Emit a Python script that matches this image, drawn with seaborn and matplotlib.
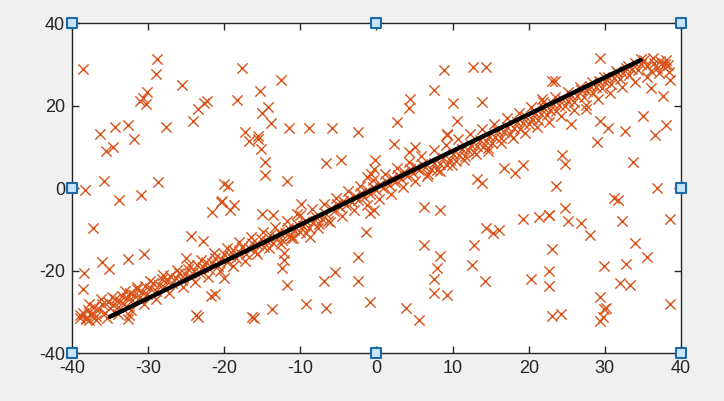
import matplotlib
matplotlib.use("Agg")
import matplotlib.pyplot as plt
import seaborn as sns
import pandas as pd

sns.set_theme(style="white")
plt.rcParams["font.family"] = ["Liberation Sans", "DejaVu Sans"]
plt.rcParams["axes.unicode_minus"] = False

# points scattered around the fitted line
in_x = [-39.0, -38.6, -38.2, -37.9, -37.5, -37.1, -36.8, -36.4, -36.0, -35.7, -35.3, -35.0,
        -34.6, -34.3, -34.0, -33.7, -33.4, -33.1, -32.8, -32.4, -32.1, -31.8, -31.4, -31.1,
        -30.8, -30.4, -30.1, -29.7, -29.3, -29.0, -28.6, -28.2, -27.9, -27.5, -27.1, -26.8,
        -26.4, -26.0, -25.6, -25.2, -24.8, -24.4, -24.0, -23.6, -23.2, -22.8, -22.4, -22.0,
        -21.6, -21.2, -20.8, -20.4, -20.0, -19.6, -19.2, -18.8, -18.4, -18.0, -17.6, -17.2,
        -16.8, -16.4, -16.0, -15.6, -15.2, -14.8, -14.4, -14.0, -13.6, -13.2, -12.8, -12.4,
        -12.0, -11.6, -11.2, -10.8, -10.4, -10.0, -9.6, -9.2, -8.8, -8.4, -8.0, -7.6,
        -7.2, -6.8, -6.4, -6.0, -5.6, -5.2, -4.8, -4.4, -4.0, -3.6, -3.2, -2.8,
        -2.4, -2.0, -1.6, -1.2, -0.8, -0.4, 0.0, 0.4, 0.8, 1.2, 1.6, 2.0,
        2.4, 2.8, 3.2, 3.6, 4.0, 4.4, 4.8, 5.2, 5.6, 6.0, 6.4, 6.8,
        7.2, 7.6, 8.0, 8.4, 8.8, 9.2, 9.6, 10.0, 10.4, 10.8, 11.2, 11.6,
        12.0, 12.4, 12.8, 13.2, 13.6, 14.0, 14.4, 14.8, 15.2, 15.6, 16.0, 16.4,
        16.8, 17.2, 17.6, 18.0, 18.4, 18.8, 19.2, 19.6, 20.0, 20.4, 20.8, 21.2,
        21.6, 22.0, 22.4, 22.8, 23.2, 23.6, 24.0, 24.4, 24.8, 25.2, 25.6, 26.0,
        26.4, 26.8, 27.2, 27.6, 28.0, 28.4, 28.8, 29.2, 29.6, 30.0, 30.4, 30.8,
        31.2, 31.6, 32.0, 32.4, 32.8, 33.2, 33.6, 34.0, 34.4, 34.8, 35.2, 35.6,
        36.0, 36.4, 36.8, 37.2, 37.6, 38.0, 38.3,
        -37.8, -36.9, -36.2, -35.4, -34.8, -33.9, -33.0, -32.2, -31.5, -30.6, -29.8, -28.9,
        -28.0, -27.2, -26.2, -25.4, -24.6, -23.8, -23.0, -22.1, -21.3, -20.5, -19.7, -18.9,
        -18.1, -17.3, -16.5, -15.7, -14.9, -14.1, -13.3, -12.5, -11.7, -10.9, -10.1, -9.3,
        -8.5, -7.7, -6.9, -6.1, -5.3, -4.5, -3.7, -2.9, -2.1, -1.3, -0.5, 0.3,
        1.1, 1.9, 2.7, 3.5, 4.3, 5.1, 5.9, 6.7, 7.5, 8.3, 9.1, 9.9,
        10.7, 11.5, 12.3, 13.1, 13.9, 14.7, 15.5, 16.3, 17.1, 17.9, 18.7, 19.5,
        20.3, 21.1, 21.9, 22.7, 23.5, 24.3, 25.1, 25.9, 26.7, 27.5, 28.3, 29.1,
        29.9, 30.7, 31.5, 32.3, 33.1, 33.9, 34.7, 35.5, 36.3, 37.1, 37.9, 38.4]
in_y = [-31.5, -30.2, -31.8, -29.6, -30.8, -28.9, -31.0, -29.4, -28.1, -30.2, -27.6, -29.0,
        -28.4, -26.9, -28.8, -27.3, -26.1, -28.0, -26.7, -25.5, -27.2, -25.9, -24.6, -26.4,
        -25.1, -23.8, -25.6, -24.2, -23.0, -24.9, -23.4, -22.1, -24.0, -22.6, -21.4, -23.1,
        -21.8, -20.5, -22.4, -20.9, -19.6, -21.5, -20.1, -18.7, -20.6, -19.2, -17.9, -19.7,
        -18.2, -16.9, -18.8, -17.3, -16.0, -17.9, -16.4, -15.1, -17.0, -15.5, -14.2, -16.1,
        -14.6, -13.3, -15.2, -13.7, -12.4, -14.3, -12.8, -11.5, -13.4, -11.9, -10.6, -12.5,
        -11.0, -9.7, -11.5, -10.1, -8.8, -10.6, -9.2, -7.9, -9.7, -8.3, -7.0, -8.8,
        -7.4, -6.1, -7.9, -4.8, -5.6, -3.9, -4.6, -3.2, -4.1, -2.6, -3.5, -1.9,
        -2.8, -1.2, -2.1, -0.5, -1.4, 0.3, -0.6, 1.0, 0.1, 1.7, 0.8, 2.4,
        1.5, 3.1, 2.2, 3.8, 2.9, 4.5, 3.6, 5.2, 4.3, 5.9, 5.0, 3.3,
        4.7, 6.1, 4.4, 5.8, 7.2, 5.5, 6.9, 8.3, 6.6, 8.0, 9.4, 7.7,
        9.1, 10.5, 8.8, 10.2, 11.6, 9.9, 11.3, 12.7, 11.0, 12.4, 13.8, 12.1,
        13.5, 14.9, 13.2, 14.6, 16.0, 14.3, 15.7, 17.1, 15.4, 16.8, 18.2, 16.5,
        17.9, 19.3, 17.6, 19.0, 20.4, 18.7, 20.1, 21.5, 19.8, 21.2, 22.6, 20.9,
        22.3, 23.7, 22.0, 23.4, 24.8, 23.1, 24.5, 25.9, 24.2, 25.6, 27.0, 25.3,
        26.7, 28.1, 26.4, 27.8, 29.2, 27.5, 28.9, 30.3, 28.6, 30.0, 31.0, 29.7,
        28.4, 30.2, 29.0, 30.8, 29.5, 31.1, 29.8,
        -28.0, -32.0, -27.0, -31.5, -26.5, -30.5, -25.0, -29.5, -24.0, -28.0, -22.5, -26.8,
        -21.0, -25.5, -19.8, -24.0, -18.6, -22.8, -17.5, -21.5, -15.8, -20.2, -14.5, -18.8,
        -13.2, -17.6, -11.8, -16.0, -10.6, -14.6, -9.4, -13.5, -8.0, -12.2, -6.5, -10.8,
        -5.0, -9.6, -3.8, -8.2, -2.4, -6.8, -0.8, -5.4, 0.6, -4.0, 2.0, -2.6,
        3.4, -1.4, 4.8, 0.2, 6.3, 1.6, 7.8, 2.8, 9.2, 4.2, 10.4, 5.6,
        11.8, 6.8, 13.0, 8.2, 14.4, 9.6, 15.6, 10.8, 16.9, 12.2, 18.2, 13.4,
        19.6, 14.8, 20.8, 16.0, 22.0, 17.4, 23.2, 18.8, 24.6, 20.2, 25.8, 21.6,
        27.0, 23.0, 28.4, 24.4, 29.6, 25.8, 31.2, 27.0, 31.4, 27.8, 30.0, 28.2]

# scattered outliers
out_x = [-38.6, -28.8, -28.9, -25.5, -30.1, -31.1, -30.3, -30.7, -23.5, -22.2, -22.6, -24.1,
         -34.3, -32.7, -27.6, -36.3, -31.8, -17.6, -12.6, -15.3, -18.3, -14.3, -15.1, -13.8,
         -11.5, -8.8, -5.8, -2.4, -17.3, -15.5, 8.9, 12.7, 14.4, 7.5, 4.4, 4.3,
         10.0, 13.8, 2.7, 10.6, 9.3, 29.4, 23.1, 23.4, 21.7, 25.5, 29.4, 30.4,
         32.7, 35.0, 38.0, 36.6, 37.7, 38.5, 36.0, 27.5, -34.6, -35.5, -35.8, -38.3,
         -28.7, -33.8, -30.9, -37.3, -21.6, -20.4, -24.3, -22.8, -20.0, -16.7, -15.5, -15.2,
         -14.6, -14.6, -11.8, -6.6, -4.6, -0.2, -0.7, -0.3, -1.3, -19.5, -20.3, -18.7,
         -19.2, -15.1, -13.6, -9.9, -10.4, -0.9, -1.4, -8.7, -11.2, 9.3, 2.3, 4.3,
         5.1, 14.7, 16.7, 18.2, 19.2, 13.2, 13.8, 6.2, 8.4, 19.3, 14.4, 15.3,
         16.1, 6.3, 12.8, -0.3, 29.0, 24.4, 24.8, 33.7, 23.6, 36.9, 31.2, 31.7,
         24.7, 21.3, 22.6, 22.7, 25.1, 26.8, 32.2, 38.5, 28.1, 34.0, -38.4, -38.6,
         -36.0, -35.2, -32.6, -30.5, -38.9, -37.7, -37.5, -38.2, -25.0, -21.7, -21.2, -23.7,
         -23.4, -32.7, -32.5, -20.0, -2.4, -5.5, -6.9, -2.4, -12.1, -12.2, -12.4, -11.8,
         -9.2, -6.6, -13.7, -16.3, -16.1, -0.8, 8.3, 7.9, 7.6, 12.6, 14.3, 20.3,
         7.5, 9.3, 3.9, 5.6, 23.1, 35.6, 29.9, 32.8, 22.7, 22.6, 32.0, 33.3,
         29.3, 29.9, 30.1, 29.8, 29.4, 23.0, 24.3, 38.6]
out_y = [28.8, 31.2, 27.6, 24.9, 23.2, 21.0, 20.3, 21.9, 19.1, 21.0, 20.7, 16.2,
         14.7, 15.2, 14.7, 13.0, 12.0, 29.0, 26.3, 23.4, 21.3, 19.6, 18.1, 15.7,
         14.5, 14.5, 14.5, 13.5, 13.5, 12.5, 28.6, 29.3, 29.3, 23.8, 21.6, 19.5,
         20.5, 20.8, 15.9, 16.2, 13.2, 31.4, 25.9, 25.9, 21.7, 15.5, 16.2, 14.5,
         13.7, 17.5, 15.2, 12.9, 22.2, 26.3, 24.2, 19.2, 9.9, 8.9, 1.6, -0.6,
         1.4, -3.0, -1.8, -9.8, -5.7, -3.5, -11.7, -12.9, 0.9, 11.4, 11.8, 9.4,
         6.2, 3.1, 1.6, 6.0, 6.7, 6.7, 3.3, 4.6, 2.7, 0.4, -3.2, -4.2,
         -5.4, -6.4, -6.6, -3.9, -6.4, -6.0, -10.7, -11.9, -12.2, 12.8, 10.6, 8.8,
         10.0, 9.0, 4.8, 3.6, 5.6, 2.1, 1.1, -4.5, -5.3, -7.4, -9.8, -10.8,
         -10.2, -13.7, -13.7, -5.3, 11.1, 7.9, 5.7, 6.4, 0.4, -0.1, -2.5, -3.0,
         -4.9, -7.1, -6.6, -6.5, -8.1, -8.6, -8.1, -7.4, -11.5, -13.3, -20.7, -24.6,
         -18.0, -19.7, -17.3, -16.1, -30.8, -32.0, -30.6, -31.6, -17.0, -26.3, -25.8, -30.9,
         -31.3, -31.8, -30.8, -21.7, -16.8, -20.3, -22.6, -22.6, -15.7, -17.5, -19.5, -23.6,
         -28.0, -29.2, -29.4, -31.3, -31.6, -27.7, -16.6, -19.5, -22.1, -18.7, -22.6, -22.1,
         -25.5, -26.0, -29.2, -32.1, -14.9, -16.8, -19.0, -18.5, -20.2, -23.8, -23.1, -23.6,
         -26.5, -29.4, -29.2, -31.3, -32.3, -31.1, -30.6, -28.0]

# fitted line end points
line_x = [-35.0, 34.7]
line_y = [-31.2, 31.0]

# selection handles around the axes box
handle_x = [-40, 0, 40, -40, 40, -40, 0, 40]
handle_y = [40, 40, 40, 0, 0, -40, -40, -40]

xticks = [-40, -30, -20, -10, 0, 10, 20, 30, 40]
yticks = [-40, -20, 0, 20, 40]

pts = pd.DataFrame({"x": in_x + out_x, "y": in_y + out_y})

fig = plt.figure(figsize=(7.24, 4.01), dpi=100, facecolor="#f0f0f0")
ax = fig.add_axes([0.0994, 0.1197, 0.8412, 0.8229])
ax.set_facecolor("white")

sns.scatterplot(data=pts, x="x", y="y", marker="x", color="#d95319",
                s=55, linewidth=1.0, ax=ax, zorder=2)
sns.lineplot(x=line_x, y=line_y, color="black", linewidth=3.2, ax=ax, zorder=3)
sns.scatterplot(x=handle_x, y=handle_y, marker="s", s=60, color="#c4e6fb",
                edgecolor="#1f6aa5", linewidth=1.5, ax=ax, zorder=5, clip_on=False)

ax.set_xlim(-40, 40)
ax.set_ylim(-40, 40)
ax.set_xticks(xticks)
ax.set_yticks(yticks)
ax.set_xlabel("")
ax.set_ylabel("")
for s in ax.spines.values():
    s.set_color("#262626")
    s.set_linewidth(1.0)
ax.tick_params(direction="in", length=5, width=1, color="#262626", labelsize=13,
               labelcolor="#262626", top=True, right=True, bottom=True, left=True,
               pad=5)

fig.savefig("out.png", dpi=100, facecolor=fig.get_facecolor())
